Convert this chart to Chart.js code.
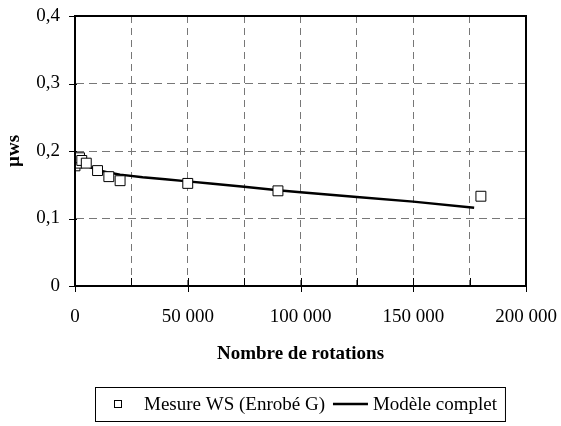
<!DOCTYPE html>
<html>
<head>
<meta charset="utf-8">
<script src="https://cdn.jsdelivr.net/npm/chart.js@4/dist/chart.umd.min.js"></script>
<style>
  html, body { margin: 0; padding: 0; background: #fff; }
  #wrap { width: 561px; height: 426px; }
</style>
</head>
<body>
<div id="wrap"><canvas id="chart"></canvas></div>
<script>
// measured points (squares)
var mesureX = [0, 1000, 2000, 3000, 5000, 10000, 15000, 20000, 50000, 90000, 180000];
var mesureY = [0.178, 0.182, 0.19, 0.186, 0.182, 0.171, 0.162, 0.156, 0.152, 0.141, 0.133];

// model curve
var modelX = [0, 2500, 5000, 10000, 15000, 20000, 30000, 40000, 50000, 60000, 75000, 90000, 100000, 125000, 150000, 177000];
var modelY = [0.19, 0.182, 0.178, 0.172, 0.168, 0.165, 0.161, 0.158, 0.155, 0.152, 0.147, 0.142, 0.139, 0.132, 0.125, 0.116];

var seriesLabels = ["Mesure WS (Enrobé G)", "Modèle complet"];
var xTitle = "Nombre de rotations";
var yTitle = "µws";

var FONT = "'Liberation Serif', 'Times New Roman', serif";
var FSIZE = 19;

function toPoints(xs, ys) {
	var pts = [];
	for (var i = 0; i < xs.length; i++) pts.push({x: xs[i], y: ys[i]});
	return pts;
}

function fmtThousands(v) {
	return String(v).replace(/\B(?=(\d{3})+(?!\d))/g, " ");
}

// black frame around the plot area + tick marks
var frame = {
	id: "frame",
	afterDatasetsDraw: function(chart) {
		var a = chart.chartArea, ctx = chart.ctx;
		var xs = chart.scales.x, ys = chart.scales.y;
		ctx.save();
		ctx.strokeStyle = "#000";
		ctx.lineWidth = 2;
		ctx.strokeRect(a.left, a.top, a.right - a.left, a.bottom - a.top);
		ctx.lineWidth = 1;
		ctx.beginPath();
		xs.ticks.forEach(function(t) {
			var px = Math.round(xs.getPixelForValue(t.value)) + 0.5;
			var major = t.value % 50000 === 0;
			ctx.moveTo(px, a.bottom - 8);
			ctx.lineTo(px, a.bottom + (major ? 6 : 0));
		});
		ys.ticks.forEach(function(t) {
			var py = Math.round(ys.getPixelForValue(t.value)) + 0.5;
			ctx.moveTo(a.left - 6, py);
			ctx.lineTo(a.left + 2, py);
		});
		ctx.stroke();
		ctx.restore();
	}
};

// boxed legend under the chart
var boxLegend = {
	id: "boxLegend",
	afterDraw: function(chart) {
		var ctx = chart.ctx;
		ctx.save();
		ctx.font = FSIZE + "px " + FONT;
		var w1 = ctx.measureText(seriesLabels[0]).width;
		var w2 = ctx.measureText(seriesLabels[1]).width;
		var left = 95, top = 387, h = 34, cy = top + h / 2;
		var x1 = left + 49;
		var lx = x1 + w1 + 8;
		var x2 = lx + 35 + 5;
		var right = x2 + w2 + 8;
		ctx.strokeStyle = "#000";
		ctx.lineWidth = 1;
		ctx.strokeRect(left + 0.5, top + 0.5, right - left, h);
		// square marker
		ctx.fillStyle = "#fff";
		ctx.fillRect(left + 19, cy - 3.5, 7, 7);
		ctx.strokeRect(left + 19.5, cy - 3.5, 7, 7);
		ctx.fillStyle = "#000";
		ctx.textBaseline = "middle";
		ctx.fillText(seriesLabels[0], x1, cy + 1);
		// line marker
		ctx.lineWidth = 2.5;
		ctx.beginPath();
		ctx.moveTo(lx, cy);
		ctx.lineTo(lx + 35, cy);
		ctx.stroke();
		ctx.fillText(seriesLabels[1], x2, cy + 1);
		ctx.restore();
	}
};

var chart = new Chart(document.getElementById("chart"), {
	type: "scatter",
	data: {
		datasets: [
			{
				label: seriesLabels[0],
				data: toPoints(mesureX, mesureY),
				pointStyle: "rect",
				pointRadius: 7,
				pointHoverRadius: 7,
				borderColor: "#000",
				backgroundColor: "#fff",
				borderWidth: 1
			},
			{
				label: seriesLabels[1],
				data: toPoints(modelX, modelY),
				showLine: true,
				pointRadius: 0,
				borderColor: "#000",
				backgroundColor: "#000",
				borderWidth: 2.5,
				tension: 0
			}
		]
	},
	options: {
		responsive: true,
		maintainAspectRatio: false,
		animation: false,
		layout: {
			padding: {top: 16, right: 35, left: 3, bottom: 40}
		},
		plugins: {
			legend: {display: false},
			tooltip: {enabled: false}
		},
		scales: {
			x: {
				type: "linear",
				min: 0,
				max: 200000,
				afterFit: function(s) { s.height = 100; s.paddingLeft = 0; s.paddingRight = 0; },
				ticks: {
					stepSize: 25000,
					autoSkip: false,
					maxRotation: 0,
					padding: 20,
					color: "#000",
					font: {family: FONT, size: FSIZE},
					callback: function(v) { return v % 50000 === 0 ? fmtThousands(v) : ""; }
				},
				grid: {
					color: "#777",
					lineWidth: 1,
					drawTicks: false
				},
				border: {display: true, color: "#000", width: 2, dash: [7, 5]},
				title: {
					display: true,
					text: xTitle,
					color: "#000",
					font: {family: FONT, size: FSIZE, weight: "bold"},
					padding: {top: 4, bottom: 21}
				}
			},
			y: {
				min: 0,
				max: 0.4,
				afterFit: function(s) { s.width = 72; s.paddingTop = 0; s.paddingBottom = 0; },
				ticks: {
					stepSize: 0.1,
					padding: 15,
					color: "#000",
					font: {family: FONT, size: FSIZE},
					callback: function(v) { return v === 0 ? "0" : v.toFixed(1).replace(".", ","); }
				},
				grid: {
					color: "#777",
					lineWidth: 1,
					drawTicks: false
				},
				border: {display: true, color: "#000", width: 2, dash: [8, 5]},
				title: {
					display: true,
					text: yTitle,
					color: "#000",
					font: {family: FONT, size: FSIZE, weight: "bold"},
					padding: {top: 0, bottom: 4}
				}
			}
		}
	},
	plugins: [frame, boxLegend]
});
</script>
</body>
</html>
